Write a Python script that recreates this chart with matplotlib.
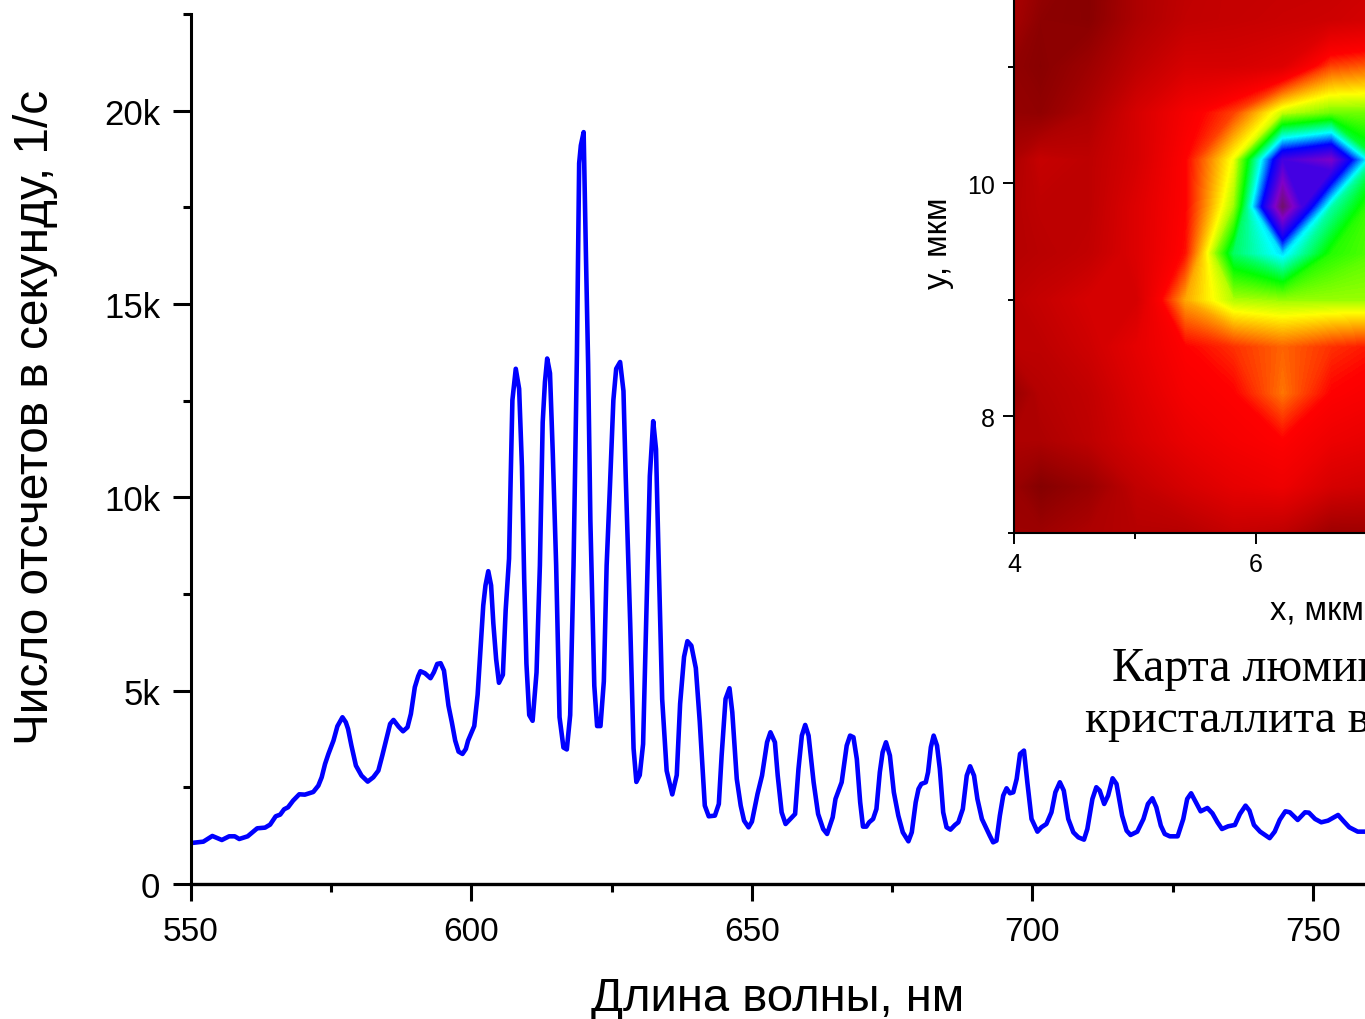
import matplotlib
matplotlib.use('Agg')
import matplotlib.pyplot as plt
import numpy as np
from matplotlib.colors import LinearSegmentedColormap
from matplotlib.ticker import FixedLocator

plt.rcParams['font.family'] = ['Liberation Sans', 'DejaVu Sans']

# spectrum
wavelength = [
    550.1, 552.2, 553.8, 555.5, 556.8, 557.8, 558.6, 560.1, 561.8, 563.2, 564.1, 565.1, 565.9, 566.6, 567.3,
    568.2, 569.3, 570.3, 571.8, 572.7, 573.3, 573.9, 574.5, 575.4, 576.1, 577.0, 577.6, 578.0, 578.6, 579.4,
    580.4, 581.5, 582.5, 583.4, 584.1, 584.9, 585.5, 586.1, 587.0, 587.8, 588.6, 589.2, 589.9, 590.5, 590.9,
    591.7, 592.7, 593.3, 593.9, 594.5, 595.1, 595.9, 596.5, 597.1, 597.7, 598.4, 599.0, 599.4, 600.5, 601.1,
    601.6, 602.1, 602.5, 603.0, 603.5, 603.9, 604.4, 604.9, 605.6, 606.1, 606.7, 607.0, 607.3, 607.9, 608.5,
    609.0, 609.4, 609.8, 610.3, 610.9, 611.6, 612.2, 612.7, 613.1, 613.5, 614.0, 614.5, 615.1, 615.7, 616.4,
    617.0, 617.6, 618.2, 618.8, 619.2, 619.5, 620.0, 620.4, 620.8, 621.2, 621.9, 622.4, 623.0, 623.6, 624.1,
    624.7, 625.3, 625.8, 626.5, 627.1, 627.5, 628.3, 628.9, 629.4, 630.0, 630.6, 631.2, 631.8, 632.4, 632.9,
    633.4, 634.0, 634.8, 635.8, 636.6, 637.2, 637.9, 638.5, 639.2, 640.0, 640.7, 641.6, 642.3, 643.4, 644.1,
    644.6, 645.3, 646.0, 646.5, 647.3, 648.0, 648.6, 649.4, 650.0, 651.0, 651.8, 652.7, 653.3, 654.1, 654.6,
    655.3, 656.0, 657.7, 658.3, 658.9, 659.5, 660.1, 661.0, 661.8, 662.7, 663.4, 664.4, 664.9, 666.0, 666.9,
    667.5, 668.1, 668.7, 669.3, 669.8, 670.4, 670.9, 671.6, 672.2, 672.8, 673.3, 673.9, 674.6, 675.3, 676.1,
    676.9, 677.9, 678.5, 679.2, 679.7, 680.2, 681.0, 681.4, 681.9, 682.4, 683.0, 683.5, 684.1, 684.7, 685.4,
    686.2, 686.8, 687.6, 688.3, 688.9, 689.6, 690.2, 691.0, 691.7, 692.4, 693.0, 693.6, 694.2, 694.8, 695.4,
    696.0, 696.6, 697.2, 697.8, 698.5, 699.1, 699.85, 700.9, 701.6, 702.5, 703.4, 704.1, 704.9, 705.6, 706.4,
    707.3, 708.2, 709.2, 709.8, 710.7, 711.4, 712.0, 712.8, 713.5, 714.3, 715.0, 716.0, 716.8, 717.5, 718.7,
    719.8, 720.6, 721.4, 722.1, 722.9, 723.6, 724.5, 725.9, 726.9, 727.6, 728.3, 729.3, 730.0, 731.2, 732.1,
    733.0, 733.8, 734.9, 736.1, 737.0, 738.0, 738.7, 739.5, 740.6, 742.3, 743.2, 744.1, 745.1, 745.9, 747.3,
    748.6, 749.3, 750.4, 751.5, 752.7, 754.5, 755.4, 756.5, 758.0, 759.3]
counts = [
    1061, 1095, 1242, 1138, 1233, 1233, 1164, 1233, 1440, 1458, 1535, 1751, 1794, 1932, 1984,
    2156, 2320, 2311, 2380, 2544, 2760, 3105, 3364, 3709, 4080, 4312, 4183, 4010, 3579, 3062,
    2803, 2648, 2760, 2932, 3320, 3795, 4140, 4243, 4071, 3950, 4054, 4399, 5089, 5373, 5503,
    5451, 5322, 5477, 5693, 5710, 5520, 4614, 4183, 3709, 3424, 3364, 3493, 3709, 4085, 4894,
    6050, 7200, 7722, 8090, 7722, 6740, 5815, 5203, 5410, 7085, 8415, 10550, 12515, 13325, 12805,
    10790, 7895, 5700, 4370, 4220, 5470, 8240, 11940, 12980, 13590, 13210, 11130, 8240, 4315, 3530,
    3480, 4370, 8240, 13670, 18640, 19100, 19445, 16330, 13440, 9400, 5125, 4085, 4085, 5240, 8240,
    10320, 12515, 13325, 13500, 12750, 10550, 6740, 3507, 2640, 2815, 3620, 7085, 10550, 11970, 11245,
    8240, 4780, 2930, 2317, 2815, 4660, 5875, 6280, 6165, 5585, 4200, 2027, 1751, 1768, 2070,
    3320, 4787, 5063, 4442, 2717, 2027, 1639, 1466, 1613, 2329, 2803, 3666, 3924, 3666, 2803,
    1854, 1552, 1811, 2976, 3838, 4114, 3838, 2631, 1811, 1423, 1294, 1725, 2199, 2631, 3579,
    3838, 3795, 3234, 2113, 1484, 1484, 1596, 1682, 1941, 2889, 3407, 3666, 3321, 2372, 1768,
    1337, 1104, 1337, 2113, 2458, 2588, 2631, 2889, 3536, 3838, 3579, 2976, 1854, 1466, 1406,
    1527, 1596, 1941, 2803, 3045, 2803, 2199, 1682, 1466, 1251, 1078, 1121, 1768, 2286, 2475,
    2346, 2372, 2717, 3364, 3450, 2631, 1682, 1354, 1466, 1552, 1854, 2372, 2631, 2415, 1682,
    1337, 1207, 1147, 1423, 2199, 2502, 2415, 2070, 2286, 2734, 2588, 1768, 1380, 1268, 1354,
    1682, 2070, 2217, 1984, 1509, 1294, 1233, 1233, 1682, 2199, 2346, 2070, 1880, 1966, 1828,
    1596, 1423, 1492, 1527, 1811, 2027, 1897, 1527, 1354, 1186, 1354, 1660, 1880, 1854, 1656,
    1854, 1845, 1682, 1596, 1638, 1785, 1638, 1466, 1354, 1354]

# luminescence map, relative intensity on a coarse grid
map_x = [4.0, 4.22, 4.62, 5.02, 5.42, 5.82, 6.22, 6.62, 7.02]
map_y = [7.0, 7.4, 7.8, 8.2, 8.6, 9.0, 9.4, 9.8, 10.2, 10.6, 11.0, 11.4, 11.8]
map_z = [
    [6, 6, 10, 12, 12, 16, 14, 6, 6],
    [5, 0, 5, 15, 20, 24, 26, 20, 18],
    [10, 10, 14, 20, 25, 28, 30, 26, 24],
    [5, 12, 15, 22, 28, 30, 37, 30, 28],
    [14, 14, 18, 24, 30, 33, 36, 33, 31],
    [14, 16, 20, 20, 40, 49, 50, 50, 50],
    [12, 13, 15, 22, 31, 62, 70, 56, 53],
    [12, 14, 14, 22, 30, 50, 100, 65, 52],
    [10, 16, 14, 20, 30, 46, 86, 92, 60],
    [4, 3, 10, 20, 28, 34, 48, 52, 52],
    [3, 1, 6, 14, 20, 20, 22, 34, 36],
    [8, 2, 1, 10, 15, 16, 17, 18, 20],
    [10, 5, 0, 10, 14, 16, 16, 16, 18],
]

rainbow = LinearSegmentedColormap.from_list('map_rainbow', [
    (0.00, '#850000'), (0.30, '#ff0000'), (0.45, '#ffff00'), (0.58, '#00ff00'),
    (0.69, '#00ffff'), (0.79, '#0000ff'), (0.93, '#8000c8'), (1.00, '#701070')])

W, H = 1365, 1020
fig = plt.figure(figsize=(W / 100, H / 100), dpi=100)

ax = fig.add_axes([191 / W, (H - 885) / H, (W - 191) / W, 870 / H])
ax.plot(wavelength, counts, color='#0000ff', lw=3.3, solid_joinstyle='round')
ax.set_xlim(550, 759.3)
ax.set_ylim(0, 22500)
ax.spines['top'].set_visible(False)
ax.spines['right'].set_visible(False)
ax.spines['left'].set_linewidth(2.2)
ax.spines['bottom'].set_linewidth(2.4)
ax.xaxis.set_major_locator(FixedLocator([550, 600, 650, 700, 750]))
ax.xaxis.set_minor_locator(FixedLocator([575, 625, 675, 725]))
ax.yaxis.set_major_locator(FixedLocator([0, 5000, 10000, 15000, 20000]))
ax.yaxis.set_minor_locator(FixedLocator([2500, 7500, 12500, 17500, 22500]))
ax.set_yticklabels(['0', '5k', '10k', '15k', '20k'])
ax.tick_params(axis='x', which='major', length=12, width=2.2, labelsize=24, pad=11)
ax.tick_params(axis='y', which='major', length=13, width=2.2, labelsize=25, pad=9)
ax.tick_params(which='minor', length=6, width=2.2)
fig.text(778 / W, 1 - 999 / H, 'Длина волны, нм', fontsize=34, ha='center', va='center')
fig.text(36 / W, 1 - 417 / H, 'Число отсчетов в секунду, 1/с', fontsize=34.4, rotation=90,
         ha='center', va='center')

inset = fig.add_axes([1014 / W, (H - 534) / H, 351 / W, 534 / H])
cs = inset.contourf(map_x, map_y, map_z, levels=np.linspace(0, 100, 256), cmap=rainbow, antialiased=False)
inset.set_xlim(4, 4 + 351 / 121)
inset.set_ylim(7, 8 + 417 / 116.5)
inset.spines['top'].set_visible(False)
inset.spines['right'].set_visible(False)
inset.spines['left'].set_linewidth(1.5)
inset.spines['bottom'].set_linewidth(1.5)
inset.xaxis.set_major_locator(FixedLocator([4, 6]))
inset.xaxis.set_minor_locator(FixedLocator([5]))
inset.yaxis.set_major_locator(FixedLocator([8, 10]))
inset.yaxis.set_minor_locator(FixedLocator([7, 9, 11]))
inset.tick_params(which='major', length=8, width=1.4, labelsize=18, pad=6)
inset.tick_params(which='minor', length=4, width=1.4)
fig.text(1317 / W, 1 - 611 / H, 'x, мкм', fontsize=23.5, ha='center', va='center')
fig.text(938 / W, 1 - 243 / H, 'y, мкм', fontsize=23.5, rotation=90, ha='center', va='center')

serif = ['Liberation Serif', 'DejaVu Serif']
fig.text(1112 / W, 1 - 681 / H, 'Карта люмин', fontsize=34.5, family=serif, va='baseline')
fig.text(1085 / W, 1 - 732 / H, 'кристаллита в', fontsize=34, family=serif, va='baseline')

fig.savefig('out.png', dpi=100)
